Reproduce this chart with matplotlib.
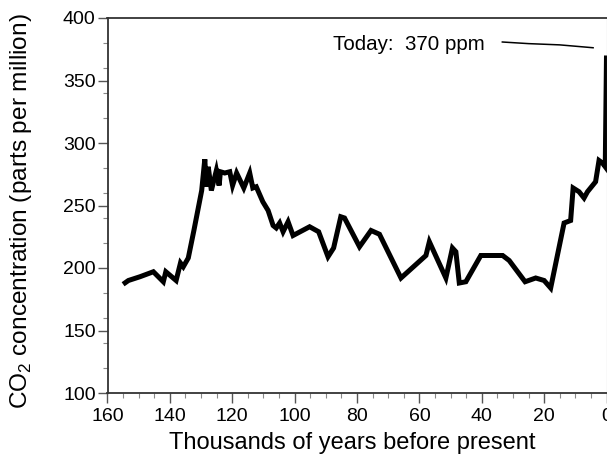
import matplotlib
matplotlib.use("Agg")
import matplotlib.pyplot as plt
from matplotlib.ticker import MultipleLocator, FixedLocator

plt.rcParams['font.family'] = ['Liberation Sans', 'DejaVu Sans']
plt.rcParams['mathtext.fontset'] = 'custom'
plt.rcParams['mathtext.rm'] = 'Liberation Sans'

# Thousands of years before present
years = [155.0, 153.3, 149.6, 145.3, 142.1, 141.3, 138.0, 136.6, 135.7, 134.1,
         132.3, 129.8, 128.8, 128.3, 127.7, 126.7, 125.1, 124.2, 123.8, 122.4,
         120.8, 119.9, 118.6, 116.3, 114.4, 113.4, 112.3, 110.2, 108.5, 106.9,
         105.9, 104.8, 103.7, 102.1, 100.5, 95.2, 92.3, 89.3, 87.5, 85.2,
         84.0, 79.2, 75.5, 72.8, 65.9, 57.9, 56.8, 51.5, 49.4, 48.3,
         47.2, 45.1, 40.3, 33.3, 31.2, 26.1, 22.7, 20.0, 17.9, 13.6,
         11.5, 10.7, 8.8, 7.2, 6.1, 3.5, 2.4, 1.3, 0.4, 0.0]
# CO2 concentration (ppm)
co2 = [187, 190, 193, 197, 189, 197, 190, 204, 201, 208,
       230, 262, 287, 265, 281, 262, 278, 266, 277, 276,
       277, 266, 276, 264, 276, 264, 265, 253, 246, 234,
       232, 236, 229, 237, 226, 233, 229, 209, 216, 241,
       240, 217, 230, 227, 192, 210, 221, 192, 216, 213,
       188, 189, 210, 210, 206, 189, 192, 190, 184, 236,
       238, 264, 261, 256, 261, 269, 286, 284, 281, 370]

x_ticks = [160, 140, 120, 100, 80, 60, 40, 20, 0]
y_ticks = [100, 150, 200, 250, 300, 350, 400]
y_minor = [120, 140, 160, 180, 220, 240, 260, 280, 320, 340, 360, 380]

fig = plt.figure(figsize=(6.07, 4.55), dpi=100)
ax = fig.add_axes([107.5 / 607, 1 - 393 / 455, (606.5 - 107.5) / 607, (393 - 18) / 455])

ax.plot(years, co2, color='black', lw=3.6, solid_joinstyle='miter', solid_capstyle='butt')

ax.set_xlim(160, 0)
ax.set_ylim(100, 400)
ax.set_xticks(x_ticks)
ax.set_yticks(y_ticks)
ax.xaxis.set_minor_locator(MultipleLocator(5))
ax.yaxis.set_minor_locator(FixedLocator(y_minor))
ax.tick_params(axis='both', which='major', direction='out', length=7.5, width=1.0,
               color='#555555')
ax.tick_params(axis='both', which='minor', direction='out', length=3.5, width=0.8,
               color='#888888')
ax.tick_params(axis='x', which='major', labelsize=14, pad=3)
ax.tick_params(axis='y', which='major', labelsize=14, pad=1)
for side in ['left', 'bottom', 'top']:
    ax.spines[side].set_linewidth(1.3)
    ax.spines[side].set_color('#333333')
ax.spines['right'].set_linewidth(0.8)
ax.spines['right'].set_color('#999999')

ax.set_xlabel('Thousands of years before present', fontsize=17.0)
ax.set_ylabel(r'CO$_\mathregular{2}$ concentration (parts per million)', fontsize=17.6)
ax.xaxis.set_label_coords(0.491, -0.103)
ax.yaxis.set_label_coords(-0.148, 0.485)

ax.text(87.8, 378.5, 'Today:  370 ppm', fontsize=14.8, va='center', ha='left')
ax.plot([33.4, 25, 15, 8, 4.3], [380.8, 379.5, 378.5, 377, 376.2], color='black', lw=1.1)

fig.savefig('out.png', dpi=100)
